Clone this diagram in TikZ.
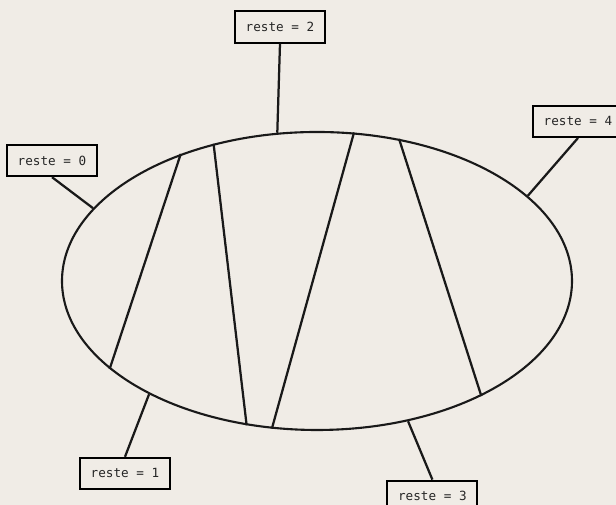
\documentclass[tikz,border=0pt]{standalone}
\usepackage{fontspec}
\setmonofont{DejaVu Sans Mono}
\usetikzlibrary{shapes.geometric}

\begin{document}
\begin{tikzpicture}[
  font=\ttfamily\fontsize{9}{11}\selectfont,
  lbl/.style={rectangle,draw=black,fill=paper,line width=1.4pt,
              minimum width=2.25cm,minimum height=0.78cm,inner sep=2pt,text=black!85},
  ln/.style={line width=1.6pt,draw=black!90},
]
  \definecolor{paper}{HTML}{F0ECE6}

  % background
  \fill[paper] (0,0) rectangle (15.4,12.625);
  \useasboundingbox (0,0) rectangle (15.4,12.625);

  % the ellipse
  \node[ellipse,draw=black!90,line width=1.5pt,minimum width=12.75cm,
        minimum height=7.45cm,inner sep=0pt] (E) at (7.925,5.6) {};

  % chords
  \draw[ln] (E.137.6) -- (E.203.4);
  \draw[ln] (E.127.5) -- (E.244.1);
  \draw[ln] (E.76.8) -- (E.253.4);
  \draw[ln] (E.60.4) -- (E.325.9);

  % labels
  \node[lbl] (r0) at (1.3,8.61) {reste = 0};
  \node[lbl] (r2) at (7.0,11.95) {reste = 2};
  \node[lbl] (r4) at (14.45,9.59) {reste = 4};
  \node[lbl] (r1) at (3.125,0.79) {reste = 1};
  \node[lbl] (r3) at (10.81,0.22) {reste = 3};

  % connectors
  \draw[ln] (r0.south) -- (E.162.6);
  \draw[ln] (r2.south) -- (E.105);
  \draw[ln] (r4.south) -- (E.22.7);
  \draw[ln] (r1.north) -- (E.214.8);
  \draw[ln] (r3.north) -- (E.303.2);
\end{tikzpicture}
\end{document}
